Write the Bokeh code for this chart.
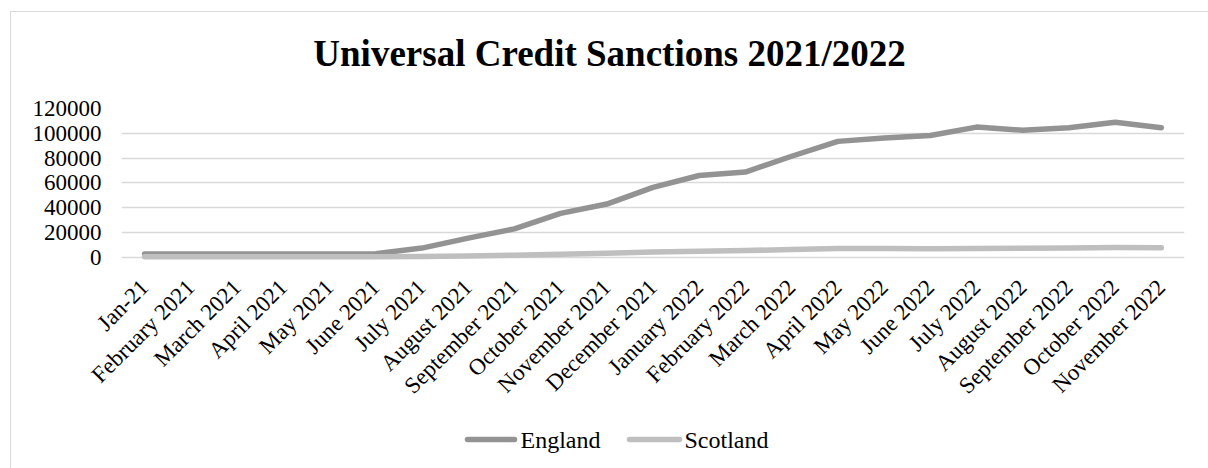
import math
from bokeh.plotting import figure
from bokeh.layouts import column
from bokeh.models import (ColumnDataSource, FactorRange, Range1d, FixedTicker,
                          NumeralTickFormatter)
from bokeh.core.properties import value
from bokeh.embed import file_html
from bokeh.resources import INLINE

months = ["Jan-21", "February 2021", "March 2021", "April 2021", "May 2021",
          "June 2021", "July 2021", "August 2021", "September 2021",
          "October 2021", "November 2021", "December 2021", "January 2022",
          "February 2022", "March 2022", "April 2022", "May 2022", "June 2022",
          "July 2022", "August 2022", "September 2022", "October 2022",
          "November 2022"]
england = [2800, 2800, 2800, 2800, 2800, 3000, 7500, 15500, 23000, 35500,
           43000, 56500, 66000, 68800, 81500, 93500, 96200, 98200, 105000,
           102500, 104500, 109000, 104500]
scotland = [500, 500, 500, 500, 500, 600, 800, 1200, 1700, 2600, 3300, 4300,
            4900, 5500, 6400, 7100, 7200, 7000, 7200, 7300, 7600, 7900, 7800]
y_ticks = [0, 20000, 40000, 60000, 80000, 100000, 120000]
series_names = ["England", "Scotland"]
series_colors = ["#939393", "#BFBFBF"]
title_text = "Universal Credit Sanctions 2021/2022"

source = ColumnDataSource(dict(month=months, england=england, scotland=scotland))

SERIF = "Liberation Serif"


def strip(height, y_top):
    f = figure(width=1198, height=height, output_backend="svg",
               toolbar_location=None,
               x_range=Range1d(120, 1183), y_range=Range1d(0, y_top),
               min_border=0, min_border_left=0, min_border_right=0,
               min_border_top=0, min_border_bottom=0)
    f.axis.visible = False
    f.grid.visible = False
    f.outline_line_color = None
    f.border_fill_color = "white"
    f.background_fill_color = "white"
    return f


# title strip; frame aligned with main frame (x 120..1183)
top = strip(81, 81)
top.text(x=[608], y=[40], text=[title_text], text_font=value(SERIF),
         text_font_style="bold", text_font_size="37px", text_color="black",
         text_align="center", text_baseline="alphabetic")

# main chart
p = figure(width=1198, height=334, output_backend="svg", toolbar_location=None,
           x_range=FactorRange(*months, range_padding=0),
           y_range=Range1d(-2500, 120000),
           min_border_left=110, min_border_right=25,
           min_border_top=15, min_border_bottom=167)
p.outline_line_color = None
p.background_fill_color = "white"
p.border_fill_color = "white"

for col, color in zip(["england", "scotland"], series_colors):
    p.line("month", col, source=source, line_color=color,
           line_width=5.5, line_cap="round", line_join="round")

p.xgrid.visible = False
p.ygrid.grid_line_color = "#D9D9D9"
p.ygrid.grid_line_width = 1.5

p.yaxis.ticker = FixedTicker(ticks=y_ticks)
p.yaxis.formatter = NumeralTickFormatter(format="0")
p.yaxis.axis_line_color = None
p.yaxis.major_tick_line_color = None
p.yaxis.minor_tick_line_color = None
p.yaxis.major_tick_out = 0
p.yaxis.major_label_standoff = 20
p.yaxis.major_label_text_font = SERIF
p.yaxis.major_label_text_font_size = "23px"
p.yaxis.major_label_text_color = "black"

p.xaxis.axis_line_color = None
p.xaxis.major_tick_line_color = None
p.xaxis.minor_tick_line_color = None
p.xaxis.major_tick_out = 0
p.xaxis.major_label_orientation = math.pi / 4
p.xaxis.major_label_standoff = 23
p.xaxis.major_label_text_font = SERIF
p.xaxis.major_label_text_font_size = "23px"
p.xaxis.major_label_text_color = "black"

# legend strip
leg = strip(42, 42)
seg_x0 = [466, 628]
seg_x1 = [513, 678]
txt_x = [519, 683]
leg.segment(x0=seg_x0, y0=[30, 30], x1=seg_x1, y1=[30, 30],
            line_color=series_colors, line_width=5.5, line_cap="round")
leg.text(x=txt_x, y=[30, 30], text=series_names, text_font=value(SERIF),
         text_font_size="24px", text_color="black", text_baseline="middle",
         text_align="left")

layout = column(top, p, leg, spacing=0, margin=(11, 0, 0, 10))
layout.styles = {"border-left": "1.5px solid #D9D9D9",
                 "border-top": "1.5px solid #D9D9D9"}

open("out.html", "w").write(file_html(layout, INLINE))
